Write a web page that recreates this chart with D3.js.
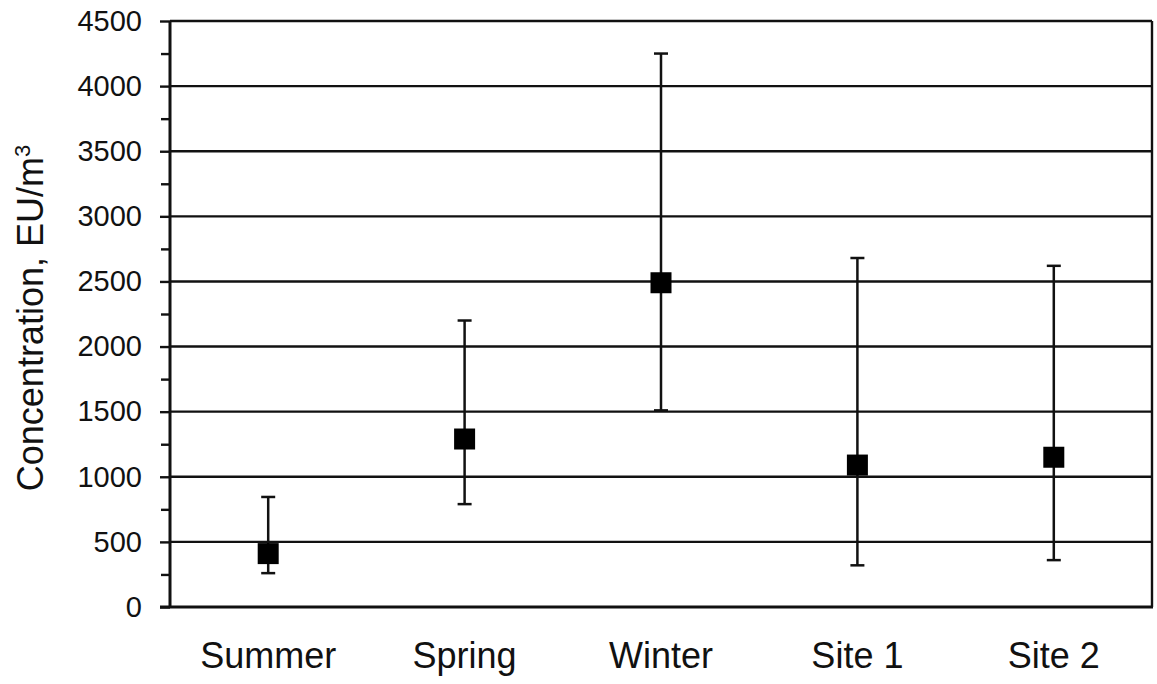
<!DOCTYPE html>
<html>
<head>
<meta charset="utf-8">
<script src="https://cdn.jsdelivr.net/npm/d3@7"></script>
<style>
  body { margin: 0; background: #fff; }
  text { font-family: "Liberation Sans", Arial, Helvetica, sans-serif; fill: #111; }
</style>
</head>
<body>
<div id="chart"></div>
<script>
const WIDTH = 1157;
const HEIGHT = 684;
const MARGIN = {top: 21, right: 5, bottom: 77, left: 170};
const INNER_WIDTH = WIDTH - MARGIN.left - MARGIN.right;
const INNER_HEIGHT = HEIGHT - MARGIN.top - MARGIN.bottom;

// data
var categories = ["Summer", "Spring", "Winter", "Site 1", "Site 2"];
var means = [410, 1290, 2490, 1090, 1150];
var highs = [845, 2200, 4250, 2680, 2620];
var lows = [260, 790, 1510, 320, 360];
var yTicks = [0, 500, 1000, 1500, 2000, 2500, 3000, 3500, 4000, 4500];
var yMinorTicks = [250, 750, 1250, 1750, 2250, 2750, 3250, 3750, 4250];

var translate = function (x, y) {
  return "translate(" + x + "," + y + ")";
};

var svg = d3.select("#chart").append("svg")
  .attr("width", WIDTH)
  .attr("height", HEIGHT);

var g = svg.append("g").attr("transform", translate(MARGIN.left, MARGIN.top));

var xScale = d3.scaleBand()
  .domain(categories)
  .range([0, INNER_WIDTH]);

var yScale = d3.scaleLinear()
  .domain([0, 4500])
  .range([INNER_HEIGHT, 0]);

// gridlines
g.selectAll(".grid")
  .data(yTicks.slice(1))
  .enter().append("line")
  .attr("x1", 0)
  .attr("x2", INNER_WIDTH)
  .attr("y1", d => yScale(d))
  .attr("y2", d => yScale(d))
  .attr("stroke", "#111")
  .attr("stroke-width", 2.4);

// right border
g.append("line")
  .attr("x1", INNER_WIDTH).attr("x2", INNER_WIDTH)
  .attr("y1", 0).attr("y2", INNER_HEIGHT)
  .attr("stroke", "#111")
  .attr("stroke-width", 2.4);

// y axis
var yAxis = d3.axisLeft(yScale)
  .tickValues(yTicks)
  .tickSize(10)
  .tickPadding(18)
  .tickFormat(d3.format("d"));

var yG = g.append("g").call(yAxis);
yG.select(".domain").remove();
yG.selectAll(".tick line").attr("stroke", "#111").attr("stroke-width", 2.4);
yG.selectAll(".tick text")
  .attr("font-size", 29)
  .attr("font-family", "Liberation Sans, Arial, sans-serif")
  .attr("fill", "#111");

var yMinor = d3.axisLeft(yScale)
  .tickValues(yMinorTicks)
  .tickSize(9)
  .tickFormat("");
var yMinorG = g.append("g").call(yMinor);
yMinorG.select(".domain").remove();
yMinorG.selectAll(".tick line").attr("stroke", "#111").attr("stroke-width", 2.4);

g.append("line")
  .attr("x1", 0).attr("x2", 0)
  .attr("y1", 0).attr("y2", INNER_HEIGHT + 1)
  .attr("stroke", "#111")
  .attr("stroke-width", 3);

// x axis
var xAxis = d3.axisBottom(xScale).tickSize(0).tickPadding(35);
var xG = g.append("g")
  .attr("transform", translate(0, INNER_HEIGHT))
  .call(xAxis);
xG.select(".domain").remove();
xG.selectAll(".tick text")
  .attr("font-size", 36)
  .attr("font-family", "Liberation Sans, Arial, sans-serif")
  .attr("fill", "#111");

g.append("line")
  .attr("x1", -10).attr("x2", INNER_WIDTH + 1)
  .attr("y1", INNER_HEIGHT).attr("y2", INNER_HEIGHT)
  .attr("stroke", "#111")
  .attr("stroke-width", 3);

// y axis title
svg.append("text")
  .attr("transform", translate(43, MARGIN.top + INNER_HEIGHT / 2 + 4) + " rotate(-90)")
  .attr("text-anchor", "middle")
  .attr("font-size", 36)
  .html('Concentration, EU/m<tspan dy="-13" font-size="22">3</tspan>');

// error bars + means
var rows = categories.map(function (c, i) {
  return {cat: c, mean: means[i], hi: highs[i], lo: lows[i]};
});
var cx = d => xScale(d.cat) + xScale.bandwidth() / 2;
var CAP = 7;
var SQ = 21;

var pts = g.selectAll(".pt").data(rows).enter().append("g");

pts.append("line")
  .attr("x1", cx).attr("x2", cx)
  .attr("y1", d => yScale(d.hi))
  .attr("y2", d => yScale(d.lo))
  .attr("stroke", "#111").attr("stroke-width", 2.5);

pts.append("line")
  .attr("x1", d => cx(d) - CAP).attr("x2", d => cx(d) + CAP)
  .attr("y1", d => yScale(d.hi)).attr("y2", d => yScale(d.hi))
  .attr("stroke", "#111").attr("stroke-width", 2.5);

pts.append("line")
  .attr("x1", d => cx(d) - CAP).attr("x2", d => cx(d) + CAP)
  .attr("y1", d => yScale(d.lo)).attr("y2", d => yScale(d.lo))
  .attr("stroke", "#111").attr("stroke-width", 2.5);

pts.append("rect")
  .attr("x", d => cx(d) - SQ / 2)
  .attr("y", d => yScale(d.mean) - SQ / 2)
  .attr("width", SQ)
  .attr("height", SQ)
  .attr("fill", "#000");
</script>
</body>
</html>
